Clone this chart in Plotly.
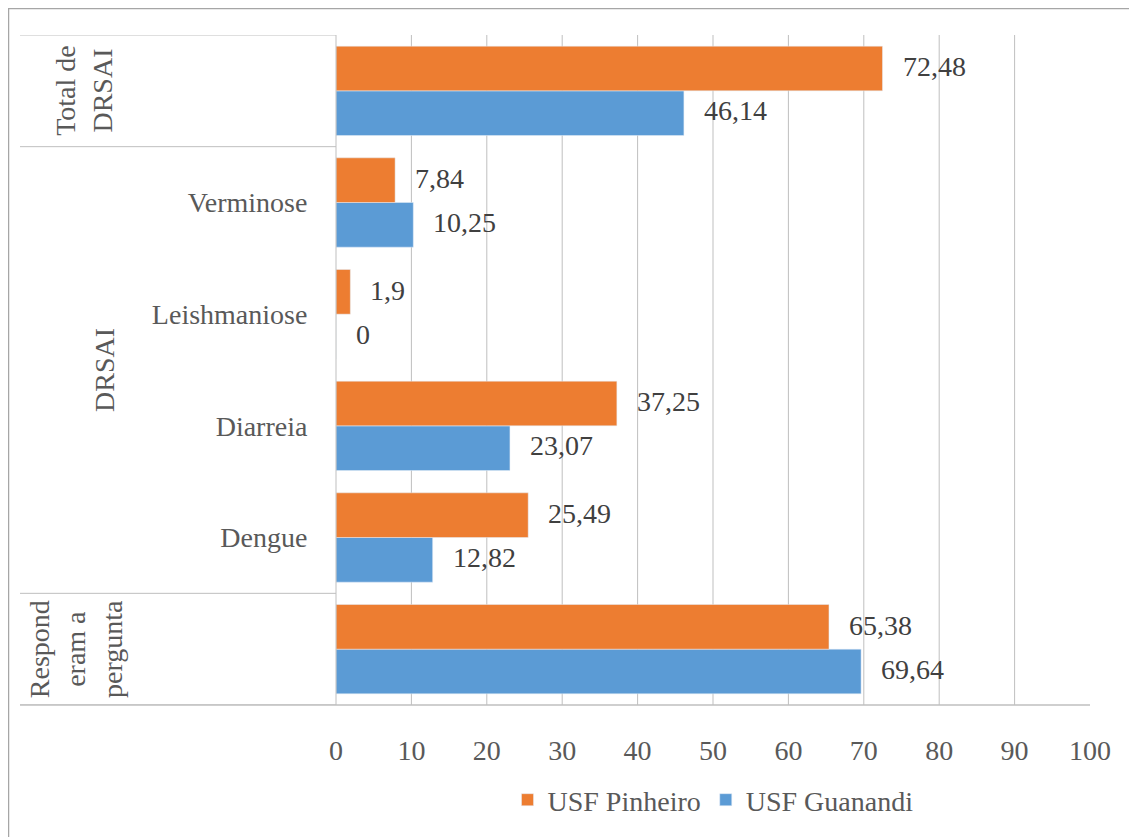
import plotly.graph_objects as go

# ---- data (bottom to top) ----
categories = ["Responderam a pergunta", "Dengue", "Diarreia", "Leishmaniose", "Verminose", "Total de DRSAI"]
tick_labels = ["", "Dengue", "Diarreia", "Leishmaniose", "Verminose", ""]
pinheiro = [65.38, 25.49, 37.25, 1.9, 7.84, 72.48]
guanandi = [69.64, 12.82, 23.07, 0, 10.25, 46.14]
series_names = ["USF Pinheiro", "USF Guanandi"]
group_labels = ["Respond<br>eram a<br>pergunta", "DRSAI", "Total de<br>DRSAI"]
group_spans = [(0, 0), (1, 4), (5, 5)]
x_ticks = [0, 10, 20, 30, 40, 50, 60, 70, 80, 90, 100]


def fmt(v):
    return f"{v:g}".replace(".", ",")


fig = go.Figure()
fig.add_trace(go.Bar(
    y=categories, x=guanandi, orientation="h", name=series_names[1],
    marker=dict(color="#5B9BD5"),
))
fig.add_trace(go.Bar(
    y=categories, x=pinheiro, orientation="h", name=series_names[0],
    marker=dict(color="#ED7D31"),
))

OFF = 8  # page body margin
W, H = 1137 - OFF, 837 - OFF
L, T = 336 - OFF, 35 - OFF
pw, ph = 1090 - 336, 705 - 35
R, B = W - L - pw, H - T - ph


def sx(px):  # screen x -> paper x
    return (px - OFF - L) / pw


def sy(py):  # screen y -> paper y
    return (T + ph - (py - OFF)) / ph


shapes = []
for xv in x_ticks[1:-1]:
    shapes.append(dict(type="line", xref="x", yref="paper", x0=xv, x1=xv, y0=0, y1=1,
                       line=dict(color="#BFBFBF", width=1), layer="below"))
x_left = sx(20)
for yb in [-0.5, 0.5, 4.5, 5.5]:
    shapes.append(dict(type="line", xref="paper", yref="y", x0=x_left, x1=0, y0=yb, y1=yb,
                       line=dict(color="#BFBFBF", width=1)))
shapes.append(dict(type="line", xref="paper", yref="paper", x0=x_left, x1=1, y0=0, y1=0,
                   line=dict(color="#BFBFBF", width=1.5)))
shapes.append(dict(type="line", xref="paper", yref="paper", x0=0, x1=0, y0=0, y1=1,
                   line=dict(color="#BFBFBF", width=1)))
shapes.append(dict(type="rect", xref="paper", yref="paper",
                   x0=sx(8.5), x1=sx(1145), y0=sy(845), y1=sy(8.5),
                   line=dict(color="#A6A6A6", width=1.5)))

annotations = []
for vals, yshift in [(pinheiro, 24), (guanandi, -20)]:
    for cat, v in zip(categories, vals):
        annotations.append(dict(text=fmt(v), x=v, y=cat, xref="x", yref="y",
                                xanchor="left", yanchor="middle", xshift=18, yshift=yshift,
                                showarrow=False,
                                font=dict(family="Liberation Serif", size=28, color="#404040")))
group_x = [sx(76), sx(104), sx(84)]
for lab, (a, b), gx in zip(group_labels, group_spans, group_x):
    annotations.append(dict(text=lab, xref="paper", yref="y", x=gx, y=(a + b) / 2,
                            textangle=-90, showarrow=False, align="center",
                            font=dict(family="Liberation Serif", size=28, color="#595959"),
                            xanchor="center", yanchor="middle"))

fig.update_layout(
    width=W, height=H,
    margin=dict(l=L, r=R, t=T, b=B),
    paper_bgcolor="white", plot_bgcolor="white",
    barmode="group", bargap=0.2, bargroupgap=0,
    font=dict(family="Liberation Serif", size=28, color="#595959"),
    xaxis=dict(range=[0, 100], tickvals=x_ticks, showgrid=False, zeroline=False,
               showline=False, ticks="outside", ticklen=20, tickcolor="rgba(0,0,0,0)",
               tickfont=dict(family="Liberation Serif", size=28, color="#595959")),
    yaxis=dict(range=[-0.5, 5.5], tickvals=categories, ticktext=tick_labels,
               showgrid=False, zeroline=False, showline=False,
               ticks="outside", ticklen=22, tickcolor="rgba(0,0,0,0)",
               tickfont=dict(family="Liberation Serif", size=28, color="#595959")),
    legend=dict(orientation="h", x=0.5, xanchor="center", y=sy(800), yanchor="middle",
                traceorder="reversed",
                font=dict(family="Liberation Serif", size=28, color="#595959"),
                bgcolor="rgba(0,0,0,0)"),
    shapes=shapes, annotations=annotations,
)

fig.write_html("out.html")
